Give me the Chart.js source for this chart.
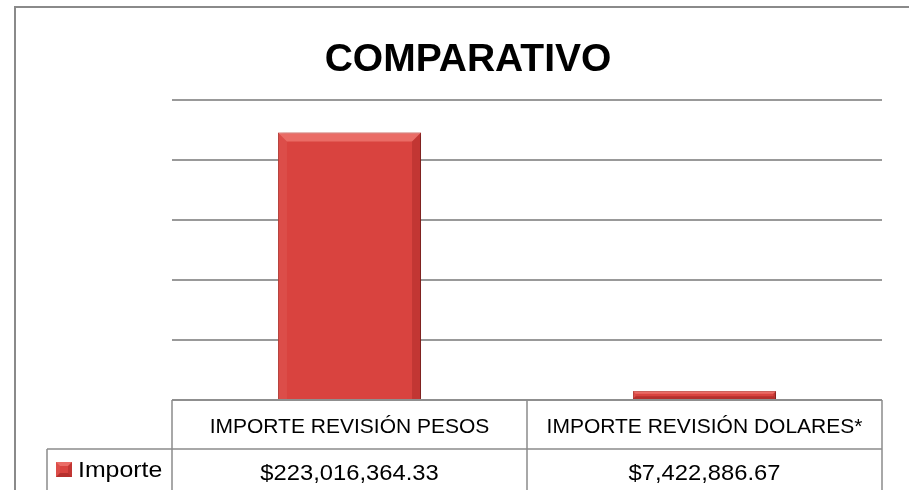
<!DOCTYPE html>
<html>
<head>
<meta charset="utf-8">
<script src="https://cdn.jsdelivr.net/npm/chart.js@4.4.1/dist/chart.umd.min.js"></script>
<style>
  body { margin: 0; background: #fff; }
  canvas { display: block; }
</style>
</head>
<body>
<canvas id="myChart" width="909" height="490"></canvas>
<script>
// datos
const titulo = "COMPARATIVO";
const categorias = ["IMPORTE REVISIÓN PESOS", "IMPORTE REVISIÓN DOLARES*"];
const serieNombre = "Importe";
const importe = [223016364.33, 7422886.67];
const ejeMax = 250000000;
const ejePaso = 50000000;

function moneda(v) {
  return "$" + v.toLocaleString("en-US", { minimumFractionDigits: 2, maximumFractionDigits: 2 });
}

function texto(ctx, str, cx, base, size, bold, sx) {
  ctx.save();
  ctx.font = (bold ? "bold " : "") + size + 'px "Liberation Sans", Arial, sans-serif';
  ctx.textAlign = "center";
  ctx.textBaseline = "alphabetic";
  ctx.fillStyle = "#000";
  ctx.translate(cx, base);
  ctx.scale(sx || 1, 1);
  ctx.fillText(str, 0, 0);
  ctx.restore();
}

function bisel(ctx, l, t, r, b, d, conFondo) {
  // top band
  ctx.fillStyle = "rgba(255,160,150,0.45)";
  ctx.beginPath();
  ctx.moveTo(l, t); ctx.lineTo(r, t); ctx.lineTo(r - d, t + d); ctx.lineTo(l + d, t + d);
  ctx.closePath(); ctx.fill();
  const bb = conFondo ? b - d : b;
  // left band
  ctx.fillStyle = "rgba(255,200,190,0.08)";
  ctx.beginPath();
  ctx.moveTo(l, t); ctx.lineTo(l + d, t + d); ctx.lineTo(l + d, bb); ctx.lineTo(l, b);
  ctx.closePath(); ctx.fill();
  // right band
  ctx.fillStyle = "rgba(90,0,0,0.18)";
  ctx.beginPath();
  ctx.moveTo(r, t); ctx.lineTo(r, b); ctx.lineTo(r - d, bb); ctx.lineTo(r - d, t + d);
  ctx.closePath(); ctx.fill();
  if (conFondo) {
    ctx.fillStyle = "rgba(90,0,0,0.28)";
    ctx.beginPath();
    ctx.moveTo(l, b); ctx.lineTo(r, b); ctx.lineTo(r - d, b - d); ctx.lineTo(l + d, b - d);
    ctx.closePath(); ctx.fill();
  }
}

const sombra = {
  id: "sombra",
  beforeDatasetDraw(chart) {
    const ctx = chart.ctx;
    ctx.save();
    ctx.shadowColor = "rgba(0,0,0,0.35)";
    ctx.shadowBlur = 4;
    ctx.shadowOffsetX = 2;
    ctx.shadowOffsetY = 1;
  },
  afterDatasetDraw(chart) {
    chart.ctx.restore();
    const ctx = chart.ctx;
    chart.getDatasetMeta(0).data.forEach(bar => {
      const l = bar.x - bar.width / 2, r = bar.x + bar.width / 2;
      const t = bar.y, b = bar.base;
      const d = Math.min(9, (b - t) / 3, bar.width / 3);
      ctx.save();
      bisel(ctx, l, t, r, b, d, (b - t) < 30);
      ctx.restore();
    });
  }
};

const tabla = {
  id: "tabla",
  afterDraw(chart) {
    const ctx = chart.ctx;
    const area = chart.chartArea;
    const xs = chart.scales.x;
    const ancho = (area.right - area.left) / categorias.length;
    const y0 = area.bottom, y1 = 449, y2 = 500;

    // marco exterior
    ctx.save();
    ctx.strokeStyle = "#8a8a8a";
    ctx.lineWidth = 2;
    ctx.beginPath();
    ctx.moveTo(15, 500); ctx.lineTo(15, 7); ctx.lineTo(909, 7);
    ctx.stroke();

    // tabla de datos
    ctx.strokeStyle = "#8c8c8c";
    ctx.lineWidth = 1.5;
    ctx.beginPath();
    ctx.moveTo(area.left, y0); ctx.lineTo(area.right, y0);
    ctx.moveTo(47, y1); ctx.lineTo(area.right, y1);
    ctx.moveTo(47, y1); ctx.lineTo(47, y2);
    for (let i = 0; i <= categorias.length; i++) {
      const x = area.left + i * ancho;
      ctx.moveTo(x, y0); ctx.lineTo(x, y2);
    }
    ctx.stroke();
    ctx.restore();

    categorias.forEach((c, i) => {
      const cx = xs.getPixelForValue(i);
      texto(ctx, c, cx, 433, 21, false, 1);
      texto(ctx, moneda(importe[i]), cx, 480, 22, false, 1.08);
    });

    // clave de leyenda
    ctx.save();
    ctx.fillStyle = "#d9433f";
    ctx.fillRect(56, 462, 16, 15);
    bisel(ctx, 56, 462, 72, 477, 4, true);
    ctx.restore();
    ctx.save();
    ctx.font = '22px "Liberation Sans", Arial, sans-serif';
    ctx.fillStyle = "#000";
    ctx.textBaseline = "alphabetic";
    ctx.translate(78, 477);
    ctx.scale(1.13, 1);
    ctx.fillText(serieNombre, 0, 0);
    ctx.restore();

    texto(ctx, titulo, 468, 71, 39, true, 1);
  }
};

const ctx = document.getElementById("myChart").getContext("2d");
const myChart = new Chart(ctx, {
  type: "bar",
  data: {
    labels: categorias,
    datasets: [{
      label: serieNombre,
      data: importe,
      backgroundColor: "#d9433f",
      borderColor: "#b3332f",
      borderWidth: 1,
      categoryPercentage: 1,
      barPercentage: 0.403
    }]
  },
  options: {
    responsive: false,
    animation: false,
    layout: { padding: { left: 172, right: 27, top: 100, bottom: 90 } },
    plugins: {
      legend: { display: false },
      title: { display: false },
      tooltip: { enabled: false }
    },
    scales: {
      x: { display: false },
      y: {
        min: 0,
        max: ejeMax,
        ticks: { display: false, stepSize: ejePaso },
        border: { display: false },
        grid: { color: "#999", lineWidth: 2, drawTicks: false },
        afterFit(scale) { scale.width = 0; }
      }
    }
  },
  plugins: [sombra, tabla]
});
</script>
</body>
</html>
